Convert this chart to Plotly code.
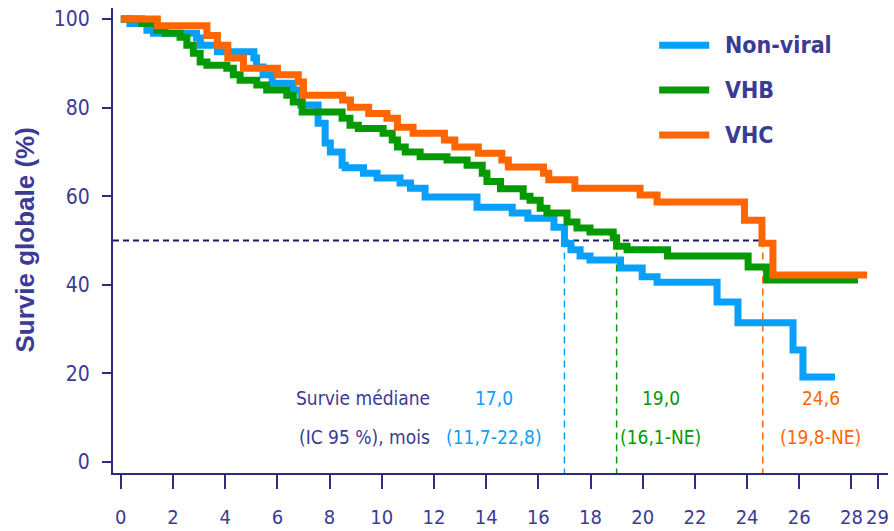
import plotly.graph_objects as go

# ---- data ----
series_names = ["Non-viral", "VHB", "VHC"]
series_colors = ["#08a0fb", "#049a04", "#ff6600"]

t_nonviral = [0, 0.35, 1.0, 1.25, 2.9, 3.05, 3.7, 5.1, 5.2, 5.45, 5.8, 6.6, 6.9,
              7.56, 7.83, 8.03, 8.48, 8.6, 9.3, 9.82, 10.7, 11.1, 11.66, 13.65,
              15.0, 15.6, 16.6, 17.0, 17.25, 17.6, 17.98, 19.15, 19.98, 20.55,
              22.85, 23.65, 25.76, 26.14]
s_nonviral = [100, 99, 97.5, 96.8, 95.7, 94.1, 92.6, 91.2, 89.2, 87.4, 85.5, 84, 80.6,
              76.5, 72, 70, 67, 66.4, 65.2, 64.1, 63, 61.8, 59.8, 57.5,
              56.2, 55.0, 53.0, 49.3, 47.9, 46.5, 45.6, 43.8, 41.8, 40.6,
              36.1, 31.4, 25.3, 19.2]
end_nonviral = 27.37

t_vhb = [0, 0.8, 1.38, 1.7, 2.27, 2.53, 2.78, 3.04, 3.3, 4.06, 4.31, 4.57, 5.21,
         5.59, 6.36, 6.61, 6.95, 8.48, 8.78, 9.1, 10.05, 10.4, 10.6, 10.9, 11.47,
         12.5, 13.27, 13.85, 14.03, 14.55, 15.42, 15.68, 16.07, 16.33, 17.1,
         17.48, 17.98, 18.87, 19.0, 19.4, 20.95, 24.04, 24.75]
s_vhb = [100, 99, 97.5, 96.8, 95.9, 94.1, 92.3, 90.3, 89.6, 88.9, 87.4, 86.2, 85.1,
         84, 82.8, 81.3, 79, 77.6, 76, 75.3, 74.2, 72.7, 71.1, 70, 68.9,
         68.2, 67, 65.2, 63.3, 61.7, 60.0, 59.1, 57.3, 56.2, 54.2,
         52.8, 51.9, 50.6, 48.7, 47.9, 46.5, 44, 41.1]
end_vhb = 28.25

t_vhc = [0, 1.4, 3.3, 3.7, 4.1, 4.7, 6.0, 6.8, 7.0, 8.5, 8.8, 9.5, 10.2, 10.6,
         11.2, 12.4, 12.8, 13.7, 14.6, 14.85, 16.2, 16.4, 17.4, 19.9, 20.55,
         23.9, 24.57, 24.99]
s_vhc = [100, 98.5, 96.3, 94.1, 91.2, 88.9, 87.4, 85.8, 82.8, 81.7, 80.1, 78.7,
         77.6, 75.6, 74.2, 72.7, 71.1, 69.7, 68.2, 66.6, 65.2, 63.7, 61.8, 60.3,
         58.7, 54.6, 49.4, 42.2]
end_vhc = 28.6

median_values = [17.0, 19.0, 24.6]
median_labels = ["17,0", "19,0", "24,6"]
ci_labels = ["(11,7-22,8)", "(16,1-NE)", "(19,8-NE)"]
median_label_x = [14.3, 20.7, 26.83]

x_tickvals = [0, 2, 4, 6, 8, 10, 12, 14, 16, 18, 20, 22, 24, 26, 28, 29]
y_tickvals = [0, 20, 40, 60, 80, 100]

# ---- styles ----
NAVY = "#2c2c82"
TEXT = "#3b3b95"
NARROW = "DejaVu Sans Condensed, DejaVu Sans, sans-serif"
WIDE = "Liberation Sans, Arial, DejaVu Sans, sans-serif"

fig = go.Figure()

curves = [(t_nonviral, s_nonviral, end_nonviral),
          (t_vhb, s_vhb, end_vhb),
          (t_vhc, s_vhc, end_vhc)]

# median reference lines (under curves)
fig.add_trace(go.Scatter(x=[-0.3, max(median_values)], y=[50, 50], mode="lines",
                         line=dict(color="#1a1a66", width=2, dash="6px,4px"),
                         showlegend=False, hoverinfo="skip"))
for m, c in zip(median_values, series_colors):
    fig.add_trace(go.Scatter(x=[m, m], y=[50, -2.5], mode="lines",
                             line=dict(color=c, width=1.5, dash="7px,5px"),
                             showlegend=False, hoverinfo="skip"))

for (t, s, e), name, c in zip(curves, series_names, series_colors):
    fig.add_trace(go.Scatter(x=list(t) + [e], y=list(s) + [s[-1]], mode="lines",
                             line=dict(color=c, width=7, shape="hv"),
                             name=name, showlegend=False))

annotations = []
# manual legend
legend_y = [94.1, 84.0, 73.8]
shapes = []
for name, c, ly in zip(series_names, series_colors, legend_y):
    shapes.append(dict(type="line", xref="x", yref="y", x0=20.63, x1=22.55, y0=ly, y1=ly,
                       line=dict(color=c, width=7)))
    annotations.append(dict(x=23.08, y=ly, xref="x", yref="y", xanchor="left",
                            yanchor="middle", showarrow=False,
                            text="<b>%s</b>" % name,
                            font=dict(family=NARROW, size=23, color=TEXT)))

annotations.append(dict(x=11.94, y=14.4, xref="x", yref="y", xanchor="right",
                        yanchor="middle", showarrow=False, text="Survie médiane",
                        font=dict(family=NARROW, size=19, color=TEXT)))
annotations.append(dict(x=11.94, y=5.6, xref="x", yref="y", xanchor="right",
                        yanchor="middle", showarrow=False, text="(IC 95 %), mois",
                        font=dict(family=NARROW, size=19, color=TEXT)))
for mx, ml, cl, c in zip(median_label_x, median_labels, ci_labels, series_colors):
    annotations.append(dict(x=mx, y=14.4, xref="x", yref="y", xanchor="center",
                            yanchor="middle", showarrow=False, text=ml,
                            font=dict(family=NARROW, size=19, color=c)))
    annotations.append(dict(x=mx, y=5.6, xref="x", yref="y", xanchor="center",
                            yanchor="middle", showarrow=False, text=cl,
                            font=dict(family=NARROW, size=19, color=c)))

annotations.append(dict(x=0, y=0.5, xref="paper", yref="paper", xanchor="center",
                        yanchor="middle", xshift=-89, showarrow=False, textangle=-90,
                        text="<b>Survie globale (%)</b>",
                        font=dict(family=WIDE, size=26, color=TEXT)))

fig.update_layout(
    width=894, height=531,
    margin=dict(l=113, r=6, t=8, b=58, autoexpand=False),
    plot_bgcolor="white", paper_bgcolor="white",
    showlegend=False,
    annotations=annotations, shapes=shapes,
    xaxis=dict(range=[-0.3, 29.4], tickvals=x_tickvals,
               ticktext=[str(v) for v in x_tickvals], tickangle=0, automargin=False,
               showgrid=False, zeroline=False, showline=True, linecolor=NAVY,
               linewidth=2, ticks="outside", ticklen=14, tickwidth=2, tickcolor=NAVY,
               ticklabelstandoff=11, ticklabeloverflow="allow",
               tickfont=dict(family=NARROW, size=20, color=TEXT)),
    yaxis=dict(range=[-2.5, 102.5], tickvals=y_tickvals,
               ticktext=[str(v) for v in y_tickvals], automargin=False,
               showgrid=False, zeroline=False, showline=True, linecolor=NAVY,
               linewidth=2, ticks="outside", ticklen=9, tickwidth=2, tickcolor=NAVY,
               ticklabelstandoff=8,
               tickfont=dict(family=NARROW, size=21, color=TEXT)),
)

fig.write_html("out.html", config={"displayModeBar": False},
               post_script="document.body.style.margin='0';document.body.style.overflow='hidden';")
